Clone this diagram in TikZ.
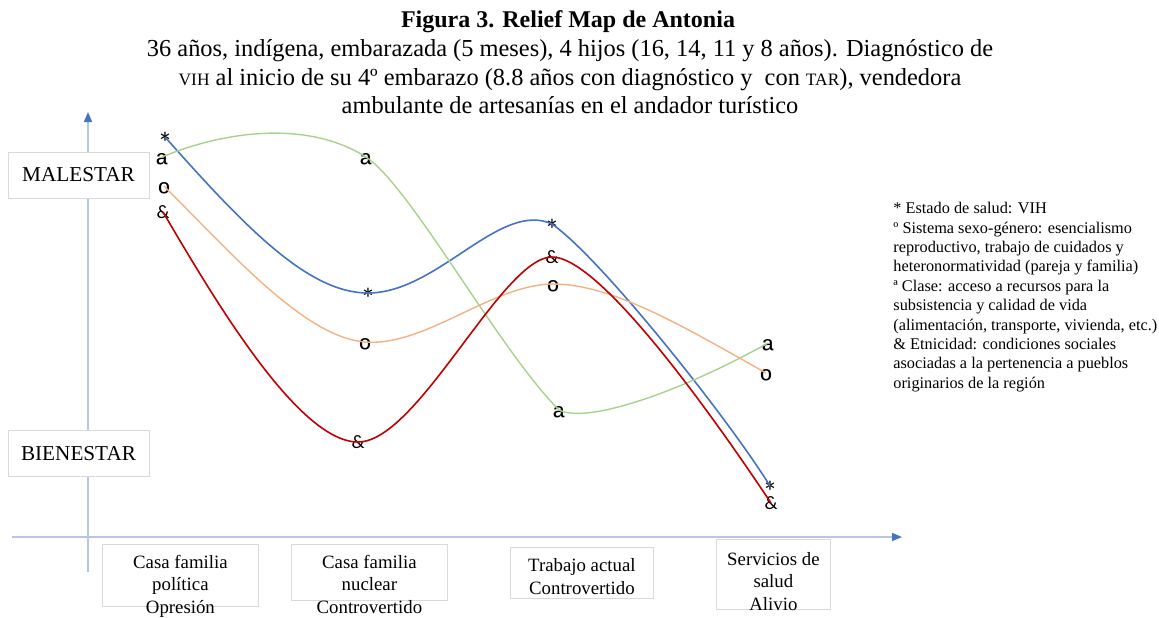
\documentclass[tikz,border=0pt]{standalone}
\usepackage{fontspec}
\setmainfont{Liberation Serif}
\newfontfamily\marcas{Carlito}
\newfontfamily\ordinales{Liberation Sans}
\usetikzlibrary{arrows.meta}
\definecolor{azul}{HTML}{4472C4}
\definecolor{ejeazul}{HTML}{B4C7E7}
\definecolor{verde}{HTML}{A9D18E}
\definecolor{naranja}{HTML}{F4B183}
\definecolor{rojo}{HTML}{C00000}
\definecolor{gris}{HTML}{D9D9D9}
\newcommand{\sigla}[1]{{\fontsize{8.7}{8.7}\selectfont #1}}

\begin{document}
\begin{tikzpicture}[
  x=0.5pt,y=-0.5pt,
  eje/.style={draw=ejeazul,line width=0.7pt},
  nivel/.style={rectangle,draw=gris,fill=white,line width=0.4pt,minimum width=70.5pt,minimum height=23pt,font=\fontsize{10.6}{12}\selectfont},
  caja/.style={rectangle,draw=gris,line width=0.4pt,anchor=north west,inner xsep=0pt,text depth=0pt,align=center,font=\fontsize{9.4}{11.25}\selectfont},
  punto/.style={inner sep=0pt,font=\marcas\fontsize{9.5}{9.5}\selectfont},
  estrella/.style={inner sep=0pt,font=\marcas\fontsize{15}{15}\selectfont,text height=16.5pt,text depth=0pt},
  ordinal/.style={inner sep=0pt,font=\ordinales\fontsize{15}{15}\selectfont,text height=17pt,text depth=0pt},
  salud/.style={draw=azul,line width=0.8pt},
  genero/.style={draw=naranja,line width=0.7pt},
  clase/.style={draw=verde,line width=0.7pt},
  etnia/.style={draw=rojo,line width=0.8pt}]
  \useasboundingbox (0,0) rectangle (1159,617);

  % titulo
  \node[anchor=base,font=\bfseries\fontsize{12}{14}\selectfont] (titulo) at (568,27) {Figura 3. Relief Map de Antonia};
  \node[anchor=base,align=center,font=\fontsize{12.2}{14.25}\selectfont] (subtitulo) at (570,113.5)
    {36 años, indígena, embarazada (5 meses), 4 hijos (16, 14, 11 y 8 años). Diagnóstico de\\
     \sigla{VIH} al inicio de su 4º embarazo (8.8 años con diagnóstico y\ \ con \sigla{TAR}), vendedora\\
     ambulante de artesanías en el andador turístico};

  % ejes
  \coordinate (arriba) at (88,112);
  \coordinate (abajo) at (88,572);
  \coordinate (izq) at (12,537);
  \coordinate (der) at (902,537);
  \draw[eje,-{Triangle[length=5pt,width=4pt,color=azul]}] (abajo) -- (arriba);
  \draw[eje,-{Triangle[length=5pt,width=4pt,color=azul]}] (izq) -- (der);

  \node[nivel] (malestar) at (78.5,175) {MALESTAR};
  \node[nivel] (bienestar) at (78.5,453.5) {BIENESTAR};

  % espacios
  \node[caja,minimum width=78pt,text height=38pt,inner ysep=-3.5pt] (casapol) at (102,544) {Casa familia\\política\\Opresión};
  \node[caja,minimum width=78pt,text height=41pt,inner ysep=-6.5pt] (casanuc) at (291,544) {Casa familia\\nuclear\\Controvertido};
  \node[caja,minimum width=71.5pt,text height=23.5pt,text depth=2pt,inner ysep=0pt] (trabajo) at (510,547) {Trabajo actual\\Controvertido};
  \node[caja,minimum width=57pt,text height=36pt,inner ysep=-0.5pt] (servicios) at (716,539) {Servicios de\\salud\\Alivio};

  % marcas
  \node[estrella] (s1) at (165,137) {*};
  \node[estrella] (s2) at (368,293) {*};
  \node[estrella] (s3) at (552,224) {*};
  \node[estrella] (s4) at (770,486) {*};
  \node[ordinal] (c1) at (162,157) {ª};
  \node[ordinal] (c2) at (366,157) {ª};
  \node[ordinal] (c3) at (559,410) {ª};
  \node[ordinal] (c4) at (768,343) {ª};
  \node[ordinal] (g1) at (164,186) {º};
  \node[ordinal] (g2) at (365,342) {º};
  \node[ordinal] (g3) at (553,284) {º};
  \node[ordinal] (g4) at (766,373) {º};
  \node[punto] (e1) at (163,212) {\&};
  \node[punto] (e2) at (358,442) {\&};
  \node[punto] (e3) at (552,257) {\&};
  \node[punto] (e4) at (771,503) {\&};

  % curvas
  \draw[salud] (s1.center) .. controls +(80,90) and +(-60,0) .. (s2.center)
    .. controls +(70,0) and +(-52,-24) .. (s3.center)
    .. controls +(50,35) and +(-40,-65) .. (s4.center);
  \draw[clase] (c1.center) .. controls +(60,-25) and +(-60,-38) .. (c2.center)
    .. controls +(45,30) and +(-60,-60) .. (c3.center)
    .. controls +(30,15) and +(-80,45) .. (c4.center);
  \draw[genero] (g1.center) .. controls +(70,70) and +(-60,-5) .. (g2.center)
    .. controls +(60,5) and +(-60,0) .. (g3.center)
    .. controls +(60,0) and +(-80,-45) .. (g4.center);
  \draw[etnia] (e1.center) .. controls +(50,85) and +(-60,0) .. (e2.center)
    .. controls +(60,0) and +(-50,0) .. (e3.center)
    .. controls +(50,0) and +(-50,-75) .. (e4.center);

  % leyenda
  \node[anchor=north west,align=left,inner sep=0pt,font=\fontsize{8.15}{9.7}\selectfont] (leyenda) at (893,202)
    {* Estado de salud: VIH\\
     º Sistema sexo-género: esencialismo\\
     reproductivo, trabajo de cuidados y\\
     heteronormatividad (pareja y familia)\\
     ª Clase: acceso a recursos para la\\
     subsistencia y calidad de vida\\
     (alimentación, transporte, vivienda, etc.)\\
     \& Etnicidad: condiciones sociales\\
     asociadas a la pertenencia a pueblos\\
     originarios de la región};
\end{tikzpicture}
\end{document}
